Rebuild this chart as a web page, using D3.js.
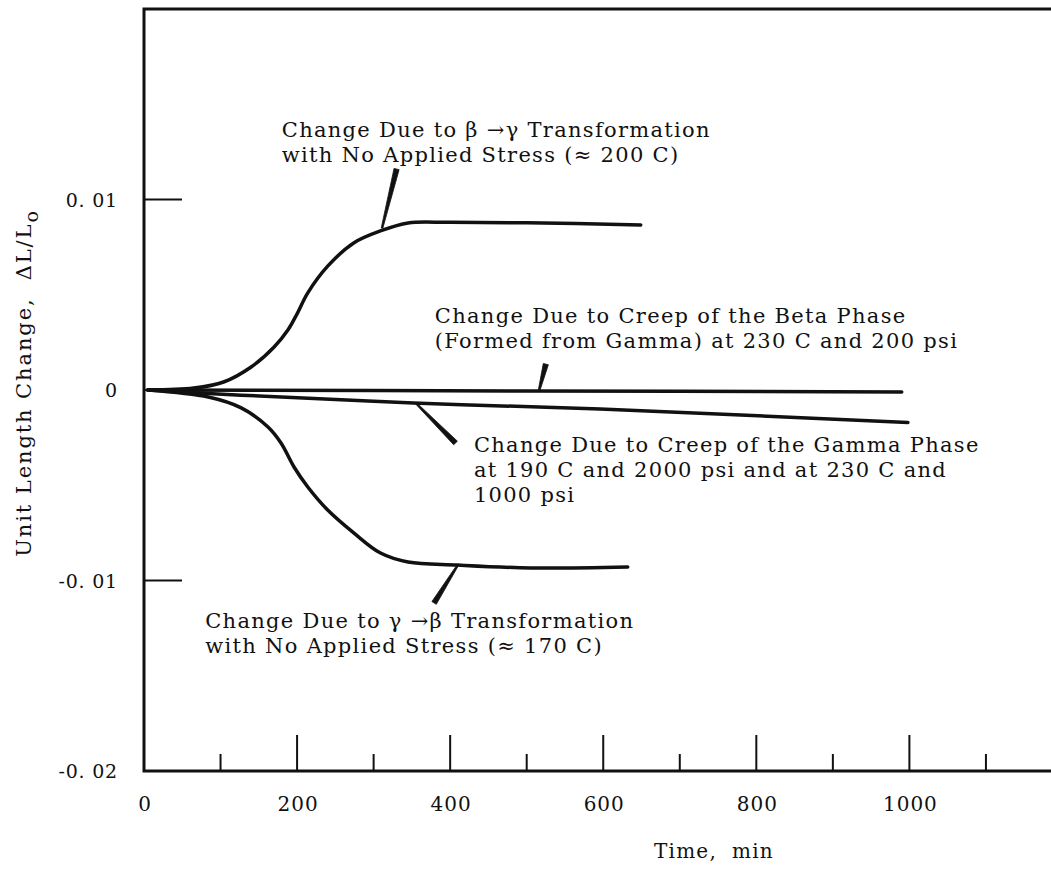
<!DOCTYPE html>
<html>
<head>
<meta charset="utf-8">
<script src="https://cdn.jsdelivr.net/npm/d3@7"></script>
<style>
  html, body { margin: 0; padding: 0; background: #fff; }
  svg { display: block; }
  text { font-family: "DejaVu Serif", "Liberation Serif", serif; fill: #111; white-space: pre; }
</style>
</head>
<body>
<svg id="chart" width="1051" height="869"></svg>
<script>
// Time (min) and unit length change for each curve
const betaToGammaTime  = [5, 65, 104, 140, 170, 188, 200, 214, 240, 274, 309, 345, 400, 500, 649];
const betaToGammaValue = [0, 0.0001, 0.00042, 0.00121, 0.00226, 0.00315, 0.00400, 0.00510, 0.00650, 0.00772, 0.00835, 0.00877, 0.00880, 0.00878, 0.00866];

const gammaToBetaTime  = [5, 84, 127, 162, 179, 196, 214, 240, 274, 309, 345, 410, 505, 632];
const gammaToBetaValue = [0, -0.00037, -0.00094, -0.00194, -0.00278, -0.00404, -0.00509, -0.0063, -0.0075, -0.00856, -0.00903, -0.00919, -0.00934, -0.00929];

const betaCreepTime  = [5, 500, 990];
const betaCreepValue = [0, -0.00005, -0.0001];

const gammaCreepTime  = [5, 127, 352, 596, 998];
const gammaCreepValue = [0, -0.00027, -0.00068, -0.001, -0.0017];

// Axis ticks
const xMajorTicks = [0, 200, 400, 600, 800, 1000];
const xMinorTicks = [100, 300, 500, 700, 900, 1100];
const yTicks = [0.01, 0, -0.01];
const yTickLabels = ["0. 01", "0", "-0. 01", "-0. 02"];
const yLabelValues = [0.01, 0, -0.01, -0.02];

// Annotation text (anchor time, anchor value, lines)
const annotations = [
  { t: 180, v: 0.01328, lines: ["Change Due to \u03B2 \u2192\u03B3 Transformation", "with No Applied Stress (\u2248 200 C)"] },
  { t: 380, v: 0.00352, lines: ["Change Due to Creep of the Beta Phase", "(Formed from Gamma) at 230 C and 200 psi"] },
  { t: 431, v: -0.00325, lines: ["Change Due to Creep of the Gamma Phase", "at 190 C and 2000 psi and at 230 C and", "1000 psi"] },
  { t: 80,  v: -0.0125, lines: ["Change Due to \u03B3 \u2192\u03B2 Transformation", "with No Applied Stress (\u2248 170 C)"] }
];

// Leader lines: thin end on the curve, thick end near the text
const leaders = [
  { t0: 311, v0: 0.0085,   t1: 330, v1: 0.0116 },
  { t0: 516, v0: -0.00005, t1: 525, v1: 0.00136 },
  { t0: 355, v0: -0.00068, t1: 407, v1: -0.00278 },
  { t0: 410, v0: -0.00919, t1: 379, v1: -0.01118 }
];

const svg = d3.select("#chart");
const x = d3.scaleLinear().domain([0, 1185]).range([144, 1051]);
const y = d3.scaleLinear().domain([-0.02, 0.02]).range([771, 9]);

// Frame: left axis, top border, bottom axis
const frame = svg.append("g").attr("fill", "none").attr("stroke", "#111").attr("stroke-width", 3);
frame.append("path")
  .attr("d", `M${x(1185)},${y(0.02)} L${x(0)},${y(0.02)} L${x(0)},${y(-0.02)} L${x(1185)},${y(-0.02)}`);

// Inward x ticks
const xg = svg.append("g").attr("stroke", "#111").attr("stroke-width", 2);
xg.selectAll("line.major").data(xMajorTicks.filter(d => d > 0)).join("line")
  .attr("x1", d => x(d)).attr("x2", d => x(d))
  .attr("y1", y(-0.02)).attr("y2", y(-0.02) - 36);
xg.selectAll("line.minor").data(xMinorTicks).join("line")
  .attr("x1", d => x(d)).attr("x2", d => x(d))
  .attr("y1", y(-0.02)).attr("y2", y(-0.02) - 17);

svg.append("g").selectAll("text").data(xMajorTicks).join("text")
  .attr("x", d => x(d) + 1).attr("y", 811)
  .attr("text-anchor", "middle").attr("font-size", 20).attr("letter-spacing", 1)
  .text(d => d);

// Inward y ticks
svg.append("g").attr("stroke", "#111").attr("stroke-width", 2)
  .selectAll("line").data(yTicks).join("line")
  .attr("x1", x(0)).attr("x2", x(0) + 38)
  .attr("y1", d => y(d)).attr("y2", d => y(d));

svg.append("g").selectAll("text").data(yLabelValues).join("text")
  .attr("x", 118).attr("y", d => y(d) + 7)
  .attr("text-anchor", "end").attr("font-size", 19).attr("letter-spacing", 0.8)
  .text((d, i) => yTickLabels[i]);

// Axis titles
svg.append("text")
  .attr("x", 714).attr("y", 858)
  .attr("text-anchor", "middle").attr("font-size", 20).attr("letter-spacing", 1.2)
  .text("Time,  min");

const yTitle = svg.append("text")
  .attr("transform", "translate(31,383) rotate(-90)")
  .attr("text-anchor", "middle").attr("font-size", 21).attr("letter-spacing", 1.9);
yTitle.append("tspan").text("Unit Length Change,  \u0394L/L");
yTitle.append("tspan").attr("dy", 7).attr("font-size", 19).text("o");

// Curves
const line = d3.line().x(d => x(d[0])).y(d => y(d[1])).curve(d3.curveCatmullRom.alpha(0.5));
const series = [
  d3.zip(betaToGammaTime, betaToGammaValue),
  d3.zip(gammaToBetaTime, gammaToBetaValue),
  d3.zip(betaCreepTime, betaCreepValue),
  d3.zip(gammaCreepTime, gammaCreepValue)
];
svg.append("g").selectAll("path").data(series).join("path")
  .attr("d", line)
  .attr("fill", "none").attr("stroke", "#111")
  .attr("stroke-width", 3.5).attr("stroke-linecap", "round");

// Tapered leader lines
function taper(l) {
  const x0 = x(l.t0), y0 = y(l.v0), x1 = x(l.t1), y1 = y(l.v1);
  const len = Math.hypot(x1 - x0, y1 - y0);
  const nx = -(y1 - y0) / len, ny = (x1 - x0) / len;
  const w0 = 0.8, w1 = 2.6;
  return `M${x0 + nx * w0},${y0 + ny * w0} L${x1 + nx * w1},${y1 + ny * w1} ` +
         `L${x1 - nx * w1},${y1 - ny * w1} L${x0 - nx * w0},${y0 - ny * w0} Z`;
}
svg.append("g").selectAll("path").data(leaders).join("path")
  .attr("d", taper).attr("fill", "#111")
  .attr("stroke", "#111").attr("stroke-width", 0.8).attr("stroke-linejoin", "round");

// Annotation text blocks
const ann = svg.append("g").selectAll("text").data(annotations).join("text")
  .attr("font-size", 21).attr("letter-spacing", 1.3);
ann.each(function(a) {
  const t = d3.select(this);
  a.lines.forEach((s, i) => {
    t.append("tspan").attr("x", x(a.t)).attr("y", y(a.v) + i * 25).text(s);
  });
});
</script>
</body>
</html>
